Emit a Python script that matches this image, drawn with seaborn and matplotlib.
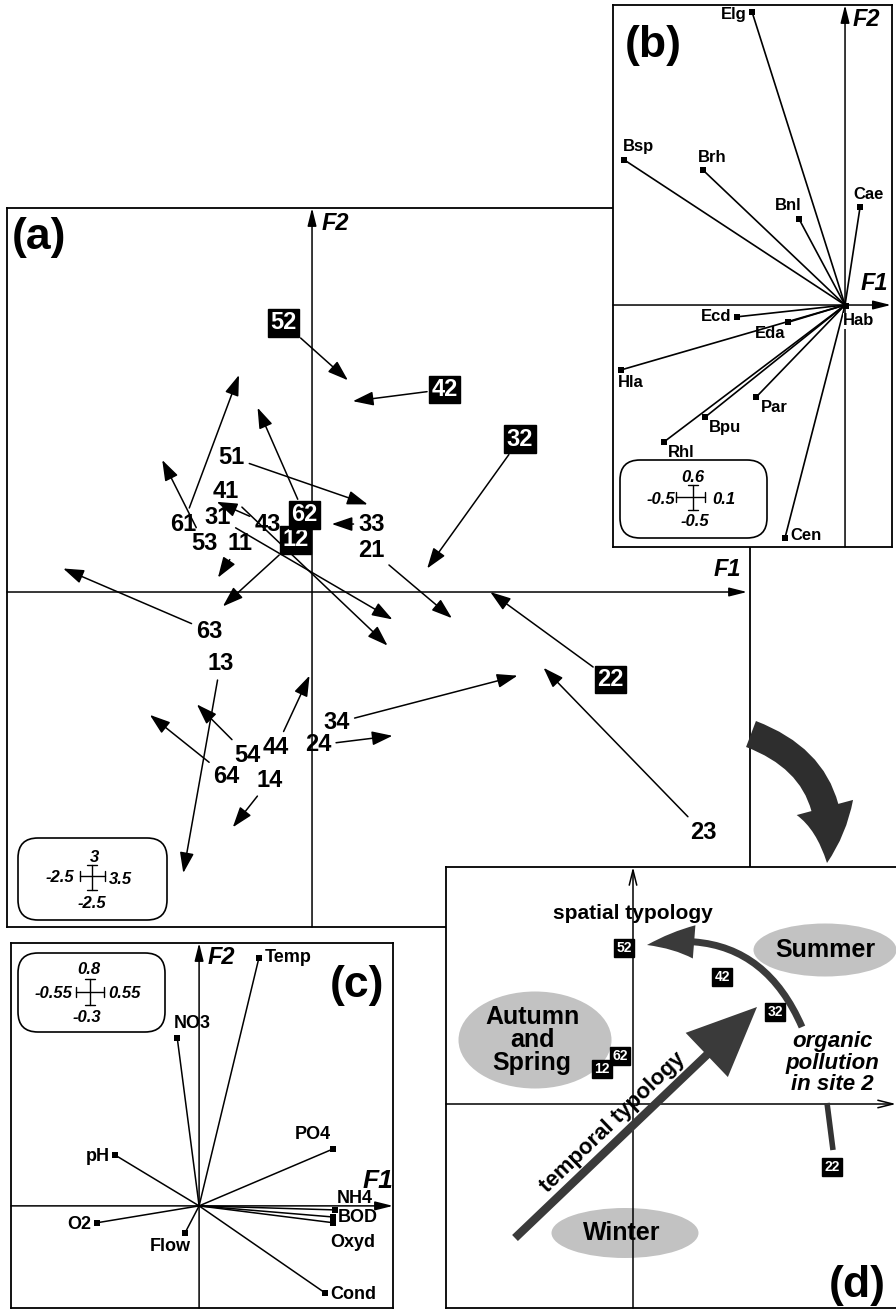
import numpy as np
import pandas as pd
import matplotlib.pyplot as plt
import seaborn as sns
from matplotlib.patches import FancyBboxPatch, FancyArrowPatch, Ellipse

# (a) site x season samples: position on F1/F2 and where the arrow points to
a_lab = ['11', '12', '13', '14', '21', '22', '23', '24', '31', '32', '33', '34',
         '41', '42', '43', '44', '51', '52', '53', '54', '61', '62', '63', '64']
a_f1 = [-0.58, -0.13, -0.74, -0.34, 0.48, 2.41, 3.16, 0.05, -0.76, 1.68, 0.48, 0.20,
        -0.70, 1.07, -0.36, -0.29, -0.65, -0.23, -0.87, -0.52, -1.04, -0.06, -0.83, -0.69]
a_f2 = [0.37, 0.40, -0.55, -1.44, 0.32, -0.67, -1.84, -1.17, 0.57, 1.17, 0.52, -1.00,
        0.77, 1.55, 0.52, -1.19, 1.03, 2.06, 0.37, -1.25, 0.52, 0.59, -0.30, -1.41]
a_to_f1 = [-0.76, -0.72, -1.04, -0.64, 1.13, 1.44, 1.87, 0.65, 0.65, 0.93, 0.16, 1.66,
           0.61, 0.33, -0.77, -0.02, 0.45, 0.29, -1.21, -0.93, -0.59, -0.44, -2.01, -1.31]
a_to_f2 = [0.11, -0.11, -2.15, -1.80, -0.20, 0.00, -0.58, -1.10, -0.21, 0.18, 0.52, -0.64,
           -0.41, 1.46, 0.69, -0.64, 0.67, 1.62, 1.01, -0.86, 1.66, 1.41, 0.18, -0.94]
a_summer = ['12', '22', '32', '42', '52', '62']

# (b) taxa
b_taxa = ['Elg', 'Bsp', 'Brh', 'Bnl', 'Cae', 'Ecd', 'Eda', 'Hab', 'Hla', 'Par', 'Bpu', 'Rhl', 'Cen']
b_f1 = [-0.198, -0.470, -0.302, -0.098, 0.032, -0.230, -0.121, 0.003, -0.477, -0.189, -0.298, -0.385, -0.128]
b_f2 = [0.596, 0.295, 0.274, 0.175, 0.199, -0.024, -0.035, -0.003, -0.132, -0.187, -0.228, -0.278, -0.474]

# (c) environmental variables
c_vars = ['Temp', 'NO3', 'PO4', 'pH', 'NH4', 'BOD', 'Oxyd', 'O2', 'Flow', 'Cond']
c_f1 = [0.175, -0.064, 0.392, -0.246, 0.398, 0.392, 0.392, -0.298, -0.041, 0.368]
c_f2 = [0.736, 0.499, 0.169, 0.151, -0.012, -0.033, -0.050, -0.050, -0.080, -0.258]

# (d) summary scheme
d_sites = ['52', '42', '32', '62', '12', '22']
d_x = [-0.09, 0.89, 1.42, -0.13, -0.31, 1.99]
d_y = [1.56, 1.27, 0.92, 0.48, 0.35, -0.63]
seasons = ['Summer', 'Autumn\nand\nSpring', 'Winter']
season_x = [1.92, -0.98, -0.08]
season_y = [1.54, 0.64, -1.29]
temporal_xy = [(-1.18, -1.34), (1.24, 0.97)]
spatial_xy = [(1.69, 0.77), (0.14, 1.59)]

# layout ----------------------------------------------------------------
b_off = {'Elg': (-4, -2, 'right', 'center'), 'Bsp': (-1, 4, 'left', 'bottom'),
         'Brh': (-4, 4, 'left', 'bottom'), 'Bnl': (-8, 4, 'center', 'bottom'),
         'Cae': (6, 4, 'center', 'bottom'), 'Ecd': (-4, 0, 'right', 'center'),
         'Eda': (-2, -3, 'right', 'top'), 'Hab': (9, -5, 'center', 'top'),
         'Hla': (-2, -4, 'left', 'top'), 'Par': (3, -2, 'left', 'top'),
         'Bpu': (3, -2, 'left', 'top'), 'Rhl': (3, -2, 'left', 'top'),
         'Cen': (4, 2, 'left', 'center')}
c_off = {'Temp': (4, 0, 'left', 'center'), 'NO3': (11, 4, 'center', 'bottom'),
         'PO4': (-15, 4, 'center', 'bottom'), 'pH': (-4, -1, 'right', 'center'),
         'NH4': (1, 2, 'left', 'bottom'), 'BOD': (3, 0, 'left', 'center'),
         'Oxyd': (14, -8, 'center', 'top'), 'O2': (-4, -1, 'right', 'center'),
         'Flow': (-11, -4, 'center', 'top'), 'Cond': (4, -1, 'left', 'center')}
season_size = [(1.43, 0.53), (1.53, 0.97), (1.47, 0.50)]

sns.set_style('white')
plt.rcParams['font.family'] = ['Liberation Sans', 'DejaVu Sans']
plt.rcParams['text.color'] = 'black'

W, H = 896, 1310
fig = plt.figure(figsize=(W / 100, H / 100), dpi=100)


def panel(l, t, r, b, z, xlim, ylim):
    ax = fig.add_axes([l / W, 1 - b / H, (r - l) / W, (b - t) / H], zorder=z)
    ax.set_xlim(xlim)
    ax.set_ylim(ylim)
    ax.set_xticks([])
    ax.set_yticks([])
    ax.set_facecolor('white')
    for s in ax.spines.values():
        s.set_visible(True)
        s.set_color('black')
        s.set_linewidth(1.3)
    return ax


def draw_axes(ax, style='-|>', end=0.004):
    x0, x1 = ax.get_xlim()
    y0, y1 = ax.get_ylim()
    ap = dict(arrowstyle=style + ',head_length=0.6,head_width=0.15', color='black',
              lw=1.1, shrinkA=0, shrinkB=0, mutation_scale=18)
    ax.annotate('', xy=(x1 - end * (x1 - x0), 0), xytext=(x0, 0), arrowprops=ap)
    ax.annotate('', xy=(0, y1), xytext=(0, y0), arrowprops=ap)


# (a)
axa = panel(7, 208, 750, 927, 1, (-2.464, 3.538), (-2.563, 2.938))
draw_axes(axa)
for lab, x, y, hx, hy in zip(a_lab, a_f1, a_f2, a_to_f1, a_to_f2):
    boxed = lab in a_summer
    axa.annotate(lab, xy=(hx, hy), xytext=(x, y), ha='center', va='center',
                 fontsize=17, fontweight='bold', color='white' if boxed else 'black',
                 bbox=dict(boxstyle='square,pad=0.1', fc='black', ec='black') if boxed else None,
                 arrowprops=dict(arrowstyle='-|>,head_length=0.7,head_width=0.24', color='black',
                                 lw=1.1, shrinkA=1, shrinkB=0, mutation_scale=18))

# (b)
axb = panel(613, 5, 892, 547, 2, (-0.494, 0.100), (-0.492, 0.610))
draw_axes(axb)
for x, y in zip(b_f1, b_f2):
    axb.plot([0, x], [0, y], color='black', lw=1.2)
sns.scatterplot(x=b_f1, y=b_f2, ax=axb, marker='s', s=20, color='black',
                linewidth=0, zorder=4)
for name, x, y in zip(b_taxa, b_f1, b_f2):
    dx, dy, ha, va = b_off[name]
    axb.annotate(name, (x, y), xytext=(dx, dy), textcoords='offset points', ha=ha, va=va,
                 fontsize=12, fontweight='bold', zorder=5,
                 bbox=dict(fc='white', ec='none', pad=0.5) if name == 'Hab' else None)

# (c)
axc = panel(11, 943, 393, 1308, 2, (-0.550, 0.567), (-0.303, 0.780))
draw_axes(axc, end=0.0)
for x, y in zip(c_f1, c_f2):
    axc.plot([0, x], [0, y], color='black', lw=1.1)
sns.scatterplot(x=c_f1, y=c_f2, ax=axc, marker='s', s=20, color='black',
                linewidth=0, zorder=4)
for name, x, y in zip(c_vars, c_f1, c_f2):
    dx, dy, ha, va = c_off[name]
    axc.annotate(name, (x, y), xytext=(dx, dy), textcoords='offset points', ha=ha, va=va,
                 fontsize=13, fontweight='bold', zorder=5)

# (d)
axd = panel(446, 867, 896, 1308, 2, (-1.87, 2.63), (-2.04, 2.37))
axd.spines['right'].set_visible(False)
draw_axes(axd, '->', end=0.0)
for name, x, y, (w, h) in zip(seasons, season_x, season_y, season_size):
    axd.add_patch(Ellipse((x, y), w, h, fc='#c2c2c2', ec='none', zorder=1))
    axd.text(x - 0.03 * (name != 'Summer'), y, name, ha='center', va='center', fontsize=18,
             fontweight='bold', linespacing=0.95, zorder=3)
axd.add_patch(FancyArrowPatch(temporal_xy[0], temporal_xy[1],
                              arrowstyle='simple,head_length=5,head_width=4.4,tail_width=0.6',
                              mutation_scale=10, fc='#3a3a3a', ec='none', shrinkA=0, shrinkB=0, zorder=4))
axd.add_patch(FancyArrowPatch(spatial_xy[0], spatial_xy[1], connectionstyle='arc3,rad=0.4',
                              arrowstyle='simple,head_length=3.4,head_width=2.4,tail_width=0.5',
                              mutation_scale=10, fc='#3a3a3a', ec='none', shrinkA=0, shrinkB=0, zorder=4))
axd.plot([1.94, 2.0], [0.01, -0.46], color='#333333', lw=4, solid_capstyle='butt', zorder=4)
for s, x, y in zip(d_sites, d_x, d_y):
    axd.text(x, y, s, color='white', fontsize=10, fontweight='bold', ha='center', va='center',
             bbox=dict(boxstyle='square,pad=0.15', fc='black', ec='black'), zorder=6)
axd.text(0, 1.91, 'spatial typology', ha='center', va='center', fontsize=15, fontweight='bold', zorder=5)
axd.text(1.99, 0.41, 'organic\npollution\nin site 2', ha='center', va='center', fontsize=16,
         fontweight='bold', style='italic', linespacing=1.0, zorder=5)
axd.text(-0.20, -0.19, 'temporal typology', rotation=44, rotation_mode='anchor', ha='center',
         va='center', fontsize=16, fontweight='bold', zorder=5)

# overlay: panel letters, axis names, scale boxes, link arrow (pixel layout)
over = fig.add_axes([0, 0, 1, 1], zorder=20)
over.set_xlim(0, W)
over.set_ylim(H, 0)
over.axis('off')

for s, x, y in [('(a)', 39, 238), ('(b)', 653, 45), ('(c)', 357, 986), ('(d)', 857, 1285)]:
    over.text(x, y, s, fontsize=32, fontweight='bold', ha='center', va='center')
for s, x, y, ha, fs in [('F2', 322, 223, 'left', 17), ('F1', 727, 570, 'center', 17),
                        ('F2', 853, 19, 'left', 17), ('F1', 874, 284, 'center', 17),
                        ('F2', 208, 957, 'left', 17), ('F1', 378, 1181, 'center', 19)]:
    over.text(x, y, s, fontsize=fs, fontweight='bold', style='italic', ha=ha, va='center')


def scale_box(box, cross, arms, labels):
    x0, y0, x1, y1 = box
    over.add_patch(FancyBboxPatch((x0, y0), x1 - x0, y1 - y0,
                                  boxstyle='round,pad=0,rounding_size=20',
                                  fc='white', ec='black', lw=1.2))
    cx, cy = cross
    l, r, t, b = arms
    over.plot([cx - l, cx + r], [cy, cy], color='black', lw=1.0)
    over.plot([cx, cx], [cy - t, cy + b], color='black', lw=1.0)
    for xx in (cx - l, cx + r):
        over.plot([xx, xx], [cy - 5, cy + 5], color='black', lw=1.0)
    for yy in (cy - t, cy + b):
        over.plot([cx - 5, cx + 5], [yy, yy], color='black', lw=1.0)
    for s, x, y, ha in labels:
        over.text(x, y, s, fontsize=12, fontweight='bold', style='italic', ha=ha, va='center')


scale_box((18, 838, 167, 920), (92, 876), (12, 13, 11, 14),
          [('3', 95, 857, 'center'), ('-2.5', 74, 878, 'right'),
           ('3.5', 109, 879, 'left'), ('-2.5', 92, 904, 'center')])
scale_box((620, 460, 767, 538), (693, 497), (17, 12, 12, 13),
          [('0.6', 693, 477, 'center'), ('-0.5', 675, 499, 'right'),
           ('0.1', 712, 499, 'left'), ('-0.5', 695, 521, 'center')])
scale_box((18, 953, 165, 1032), (90, 992), (14, 14, 13, 13),
          [('0.8', 89, 970, 'center'), ('-0.55', 72, 993, 'right'),
           ('0.55', 108, 993, 'left'), ('-0.3', 87, 1017, 'center')])

over.add_patch(FancyArrowPatch((751, 734), (827, 863), connectionstyle='arc3,rad=-0.4',
                               arrowstyle='simple,head_length=4,head_width=4.2,tail_width=2.0',
                               mutation_scale=10, fc='#2e2e2e', ec='none', shrinkA=0, shrinkB=0))

fig.savefig('out.png', dpi=100)
